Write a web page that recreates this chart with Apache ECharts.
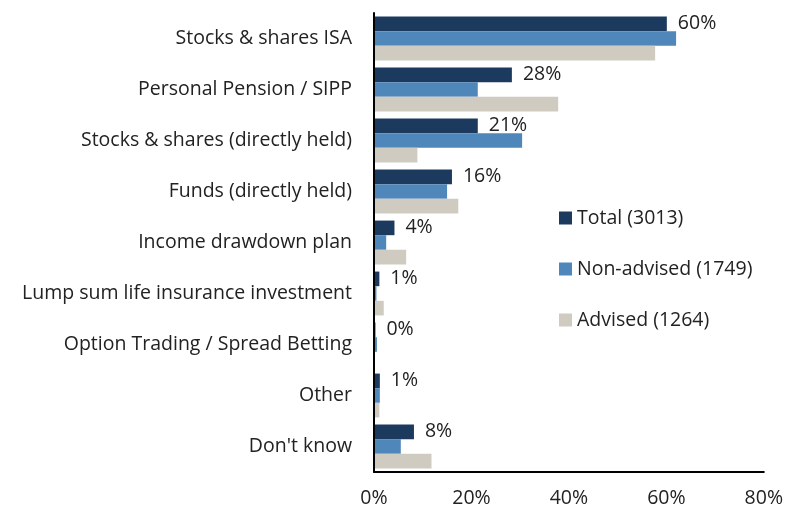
<!DOCTYPE html>
<html><head><meta charset="utf-8">
<script src="https://cdn.jsdelivr.net/npm/echarts@6/dist/echarts.min.js"></script>
<style>html,body{margin:0;padding:0;background:#fff}#c{width:786px;height:511px}</style>
</head><body><div id="c"></div>
<script>
const categories = ["Stocks & shares ISA","Personal Pension / SIPP","Stocks & shares (directly held)","Funds (directly held)","Income drawdown plan","Lump sum life insurance investment","Option Trading / Spread Betting","Other","Don't know"];
const total = [60.1, 28.3, 21.3, 16.0, 4.2, 1.1, 0.3, 1.2, 8.2];
const nonAdvised = [62.0, 21.3, 30.4, 15.0, 2.5, 0.5, 0.6, 1.2, 5.5];
const advised = [57.7, 37.8, 8.9, 17.3, 6.6, 2.0, 0.0, 1.1, 11.8];
const xTicks = [0, 20, 40, 60, 80];
const seriesNames = ["Total (3013)", "Non-advised (1749)", "Advised (1264)"];

const FONT = 'Open Sans';
const FS = 19.5;
const chart = echarts.init(document.getElementById('c'));
chart.setOption({
  animation: false,
  textStyle: {fontFamily: FONT},
  grid: {left: 374, right: 21, top: 13, bottom: 39, containLabel: false},
  legend: {
    orient: 'vertical', left: 559, top: 208, itemWidth: 13, itemHeight: 13,
    itemGap: 31, icon: 'rect', padding: 0,
    textStyle: {fontFamily: FONT, fontSize: FS, color: '#222'},
    data: seriesNames
  },
  xAxis: {
    type: 'value', min: xTicks[0], max: xTicks[xTicks.length-1], interval: 20,
    splitLine: {show: false},
    axisLine: {show: true, lineStyle: {color: '#000', width: 2}},
    axisTick: {show: false},
    axisLabel: {formatter: v => v + '%', fontSize: FS, color: '#222', margin: 16, fontFamily: FONT}
  },
  yAxis: {
    type: 'category', data: categories, inverse: true, z: 5,
    axisLine: {show: true, lineStyle: {color: '#000', width: 2}},
    axisTick: {show: false},
    axisLabel: {fontSize: FS, color: '#222', margin: 22, fontFamily: FONT}
  },
  series: [
    {name: seriesNames[0], type: 'bar', data: total, barGap: '0%', barCategoryGap: '14%',
     itemStyle: {color: '#1c3a5e'},
     label: {show: true, position: 'right', distance: 11, fontSize: FS, color: '#222', fontFamily: FONT,
       formatter: p => Math.round(p.value) + '%'}},
    {name: seriesNames[1], type: 'bar', data: nonAdvised, barGap: '0%', barCategoryGap: '14%',
     itemStyle: {color: '#4f87bb'}},
    {name: seriesNames[2], type: 'bar', data: advised, barGap: '0%', barCategoryGap: '14%',
     itemStyle: {color: '#d0cbc1'}}
  ]
});
</script></body></html>
